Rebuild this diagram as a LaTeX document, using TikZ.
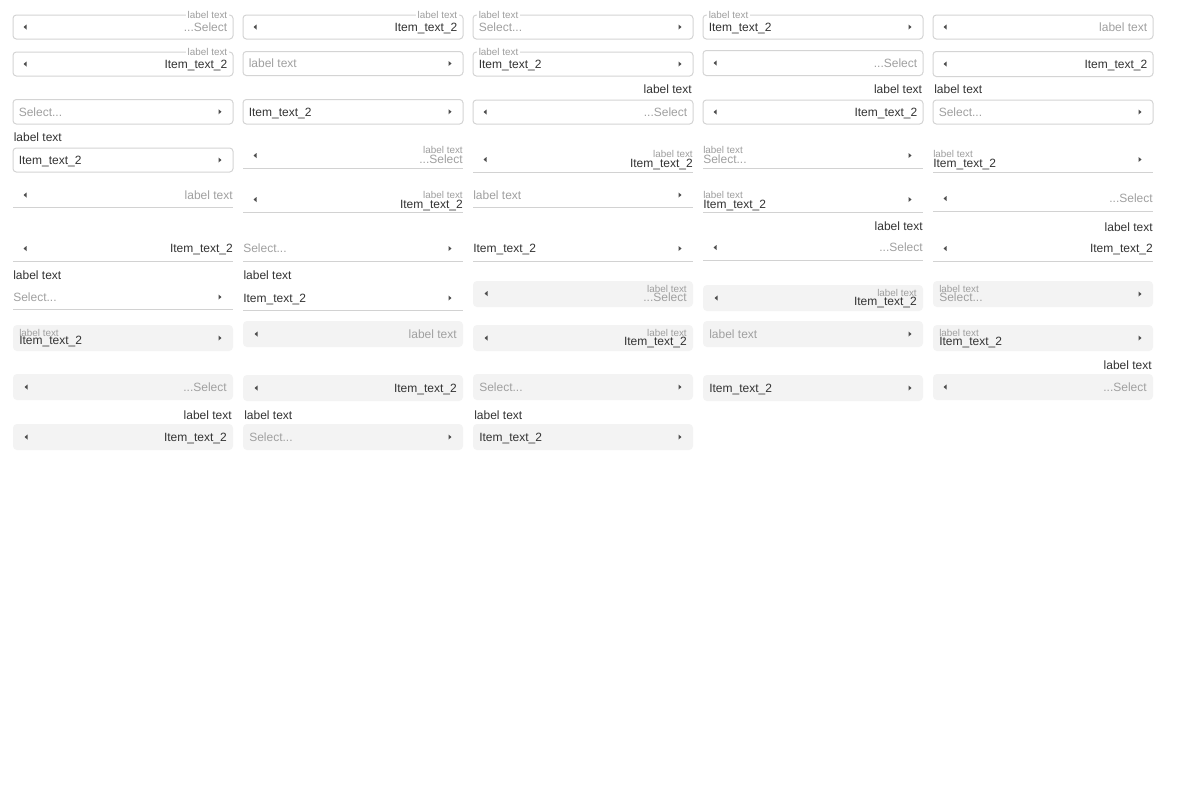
\documentclass[tikz,border=0pt]{standalone}
\usepackage{fontspec}
\setmainfont{Liberation Sans}
\definecolor{dark}{HTML}{333333}
\definecolor{phg}{HTML}{A0A0A0}
\definecolor{lblg}{HTML}{9E9E9E}
\definecolor{bord}{HTML}{D4D4D4}
\definecolor{uline}{HTML}{D2D2D2}
\definecolor{fillg}{HTML}{F3F3F3}
\definecolor{arrc}{HTML}{4D4D4D}
\begin{document}
\begin{tikzpicture}[x=0.75pt,y=-0.75pt,
  ob/.style={draw=bord,fill=white,line width=0.75pt,rounded corners=2.5pt},
  fb/.style={fill=fillg,rounded corners=3pt},
  ul/.style={draw=uline,line width=0.75pt},
  txt/.style={inner sep=0pt,font=\fontsize{9}{10}\selectfont,text height=6.4pt,text depth=0pt},
  dk/.style={txt,text=dark},
  ph/.style={txt,text=phg},
  sm/.style={inner sep=0pt,font=\fontsize{7.4}{8}\selectfont,text height=5.3pt,text depth=0pt,text=lblg},
  fl/.style={sm,fill=white,inner xsep=1.5pt,inner ysep=1pt},
  lab/.style={inner sep=0pt,font=\fontsize{9}{10}\selectfont,text=dark},
  larr/.pic={\fill[arrc] (1.5,-2.5) -- (-1.5,0) -- (1.5,2.5) -- cycle;},
  rarr/.pic={\fill[arrc] (-1.5,-2.5) -- (1.5,0) -- (-1.5,2.5) -- cycle;}]
\useasboundingbox (0,0) rectangle (1200,800);
\fill[white] (0,0) rectangle (1200,800);

% ---------------- Column 1 ----------------
\path[ob] (13,15) rectangle (233,39);
\pic at (25,27) {larr};
\node[ph,anchor=east] (c1r1v) at (227.5,27) {...Select};
\node[fl,anchor=east] (c1r1l) at (229.5,14.5) {label text};

\path[ob] (13,52) rectangle (233,76);
\pic at (25,64) {larr};
\node[dk,anchor=east] (c1r2v) at (227.5,64) {Item\_text\_2};
\node[fl,anchor=east] (c1r2l) at (229.5,51.5) {label text};

\path[ob] (13,99.5) rectangle (233,124);
\node[ph,anchor=west] (c1r3v) at (18.5,111.75) {Select...};
\pic at (220,111.75) {rarr};

\node[lab,anchor=base west] (c1r4l) at (13.5,141.7) {label text};
\path[ob] (13,148) rectangle (233,172);
\node[dk,anchor=west] (c1r4v) at (18.5,160) {Item\_text\_2};
\pic at (220,160) {rarr};

\path[ul] (13,207.5) -- (233,207.5);
\pic at (25,195) {larr};
\node[ph,anchor=east] (c1r5v) at (233,195) {label text};

\path[ul] (13,261) -- (233,261);
\pic at (25,248.5) {larr};
\node[dk,anchor=east] (c1r6v) at (233,248.5) {Item\_text\_2};

\node[lab,anchor=base west] (c1r7l) at (13,279) {label text};
\path[ul] (13,309.5) -- (233,309.5);
\node[ph,anchor=west] (c1r7v) at (13,297) {Select...};
\pic at (220,297) {rarr};

\path[fb] (13,325) rectangle (233,351);
\node[sm,anchor=west] (c1r8l) at (19,332.5) {label text};
\node[dk,anchor=west] (c1r8v) at (19,340.5) {Item\_text\_2};
\pic at (220,338) {rarr};

\path[fb] (13,374) rectangle (233,400);
\pic at (26,387) {larr};
\node[ph,anchor=east] (c1r9v) at (227,387) {...Select};

\node[lab,anchor=base east] (c1r10l) at (232,419.3) {label text};
\path[fb] (13,424) rectangle (233,450);
\pic at (26,437) {larr};
\node[dk,anchor=east] (c1r10v) at (227,437) {Item\_text\_2};

% ---------------- Column 2 ----------------
\path[ob] (243,15) rectangle (463,39);
\pic at (255,27) {larr};
\node[dk,anchor=east] (c2r1v) at (457.5,27) {Item\_text\_2};
\node[fl,anchor=east] (c2r1l) at (459.5,14.5) {label text};

\path[ob] (243,51.5) rectangle (463,75.5);
\node[ph,anchor=west] (c2r2v) at (248.5,63.5) {label text};
\pic at (450,63.5) {rarr};

\path[ob] (243,99.5) rectangle (463,124);
\node[dk,anchor=west] (c2r3v) at (248.5,111.75) {Item\_text\_2};
\pic at (450,111.75) {rarr};

\path[ul] (243,168.5) -- (463,168.5);
\pic at (255,155.5) {larr};
\node[sm,anchor=east] (c2r4l) at (463,150.3) {label text};
\node[ph,anchor=east] (c2r4v) at (463,159.5) {...Select};

\path[ul] (243,212.5) -- (463,212.5);
\pic at (255,199.5) {larr};
\node[sm,anchor=east] (c2r5l) at (463,194.5) {label text};
\node[dk,anchor=east] (c2r5v) at (463,204) {Item\_text\_2};

\path[ul] (243,261) -- (463,261);
\node[ph,anchor=west] (c2r6v) at (243,248.5) {Select...};
\pic at (450,248.5) {rarr};

\node[lab,anchor=base west] (c2r7l) at (243.3,279.7) {label text};
\path[ul] (243,310) -- (463,310);
\node[dk,anchor=west] (c2r7v) at (243,298) {Item\_text\_2};
\pic at (450,298) {rarr};

\path[fb] (243,321) rectangle (463,347);
\pic at (256,334) {larr};
\node[ph,anchor=east] (c2r8v) at (457,334) {label text};

\path[fb] (243,375) rectangle (463,401);
\pic at (256,388) {larr};
\node[dk,anchor=east] (c2r9v) at (457,388) {Item\_text\_2};

\node[lab,anchor=base west] (c2r10l) at (244,419.3) {label text};
\path[fb] (243,424) rectangle (463,450);
\node[ph,anchor=west] (c2r10v) at (249,437) {Select...};
\pic at (450,437) {rarr};

% ---------------- Column 3 ----------------
\path[ob] (473,15) rectangle (693,39);
\node[fl,anchor=west] (c3r1l) at (476.5,14.5) {label text};
\node[ph,anchor=west] (c3r1v) at (478.5,27) {Select...};
\pic at (680,27) {rarr};

\path[ob] (473,52) rectangle (693,76);
\node[fl,anchor=west] (c3r2l) at (476.5,51.5) {label text};
\node[dk,anchor=west] (c3r2v) at (478.5,64) {Item\_text\_2};
\pic at (680,64) {rarr};

\node[lab,anchor=base east] (c3r3l) at (692,93.7) {label text};
\path[ob] (473,100) rectangle (693,124);
\pic at (485,112) {larr};
\node[ph,anchor=east] (c3r3v) at (687.5,112) {...Select};

\path[ul] (473,172.5) -- (693,172.5);
\pic at (485,159.5) {larr};
\node[sm,anchor=east] (c3r4l) at (693,154.3) {label text};
\node[dk,anchor=east] (c3r4v) at (693,163.5) {Item\_text\_2};

\path[ul] (473,207.5) -- (693,207.5);
\node[ph,anchor=west] (c3r5v) at (473,195) {label text};
\pic at (680,195) {rarr};

\path[ul] (473,261) -- (693,261);
\node[dk,anchor=west] (c3r6v) at (473,248.5) {Item\_text\_2};
\pic at (680,248.5) {rarr};

\path[fb] (473,281) rectangle (693,307);
\pic at (486,293.5) {larr};
\node[sm,anchor=east] (c3r7l) at (687,288.5) {label text};
\node[ph,anchor=east] (c3r7v) at (687,297) {...Select};

\path[fb] (473,325) rectangle (693,351);
\pic at (486,338) {larr};
\node[sm,anchor=east] (c3r8l) at (687,332.5) {label text};
\node[dk,anchor=east] (c3r8v) at (687,341) {Item\_text\_2};

\path[fb] (473,374) rectangle (693,400);
\node[ph,anchor=west] (c3r9v) at (479,387) {Select...};
\pic at (680,387) {rarr};

\node[lab,anchor=base west] (c3r10l) at (474,419.3) {label text};
\path[fb] (473,424) rectangle (693,450);
\node[dk,anchor=west] (c3r10v) at (479,437) {Item\_text\_2};
\pic at (680,437) {rarr};

% ---------------- Column 4 ----------------
\path[ob] (703,15) rectangle (923,39);
\node[fl,anchor=west] (c4r1l) at (706.5,14.5) {label text};
\node[dk,anchor=west] (c4r1v) at (708.5,27) {Item\_text\_2};
\pic at (910,27) {rarr};

\path[ob] (703,50.5) rectangle (923,75.5);
\pic at (715,63) {larr};
\node[ph,anchor=east] (c4r2v) at (917.5,63) {...Select};

\node[lab,anchor=base east] (c4r3l) at (922.3,93.7) {label text};
\path[ob] (703,100) rectangle (923,124);
\pic at (715,112) {larr};
\node[dk,anchor=east] (c4r3v) at (917.5,112) {Item\_text\_2};

\path[ul] (703,168.5) -- (923,168.5);
\node[sm,anchor=west] (c4r4l) at (703,150.3) {label text};
\node[ph,anchor=west] (c4r4v) at (703,159.5) {Select...};
\pic at (910,155.5) {rarr};

\path[ul] (703,212.5) -- (923,212.5);
\node[sm,anchor=west] (c4r5l) at (703,194.5) {label text};
\node[dk,anchor=west] (c4r5v) at (703,204) {Item\_text\_2};
\pic at (910,199.5) {rarr};

\node[lab,anchor=base east] (c4r6l) at (923,230.3) {label text};
\path[ul] (703,260) -- (923,260);
\pic at (715,247.5) {larr};
\node[ph,anchor=east] (c4r6v) at (923,247.5) {...Select};

\path[fb] (703,285) rectangle (923,311);
\pic at (716,298) {larr};
\node[sm,anchor=east] (c4r7l) at (917,292.5) {label text};
\node[dk,anchor=east] (c4r7v) at (917,301) {Item\_text\_2};

\path[fb] (703,321) rectangle (923,347);
\node[ph,anchor=west] (c4r8v) at (709,334) {label text};
\pic at (910,334) {rarr};

\path[fb] (703,375) rectangle (923,401);
\node[dk,anchor=west] (c4r9v) at (709,388) {Item\_text\_2};
\pic at (910,388) {rarr};

% ---------------- Column 5 ----------------
\path[ob] (933,15) rectangle (1153,39);
\pic at (945,27) {larr};
\node[ph,anchor=east] (c5r1v) at (1147.5,27) {label text};

\path[ob] (933,51.5) rectangle (1153,76.5);
\pic at (945,64) {larr};
\node[dk,anchor=east] (c5r2v) at (1147.5,64) {Item\_text\_2};

\node[lab,anchor=base west] (c5r3l) at (934,93.7) {label text};
\path[ob] (933,100) rectangle (1153,124);
\node[ph,anchor=west] (c5r3v) at (938.5,112) {Select...};
\pic at (1140,112) {rarr};

\path[ul] (933,172.5) -- (1153,172.5);
\node[sm,anchor=west] (c5r4l) at (933,154.3) {label text};
\node[dk,anchor=west] (c5r4v) at (933,163.5) {Item\_text\_2};
\pic at (1140,159.5) {rarr};

\path[ul] (933,211) -- (1153,211);
\pic at (945,198.5) {larr};
\node[ph,anchor=east] (c5r5v) at (1153,198.5) {...Select};

\node[lab,anchor=base east] (c5r6l) at (1153,231) {label text};
\path[ul] (933,261) -- (1153,261);
\pic at (945,248.5) {larr};
\node[dk,anchor=east] (c5r6v) at (1153,248.5) {Item\_text\_2};

\path[fb] (933,281) rectangle (1153,307);
\node[sm,anchor=west] (c5r7l) at (939,288.5) {label text};
\node[ph,anchor=west] (c5r7v) at (939,297) {Select...};
\pic at (1140,294) {rarr};

\path[fb] (933,325) rectangle (1153,351);
\node[sm,anchor=west] (c5r8l) at (939,332.5) {label text};
\node[dk,anchor=west] (c5r8v) at (939,341) {Item\_text\_2};
\pic at (1140,338) {rarr};

\node[lab,anchor=base east] (c5r9l) at (1152,369) {label text};
\path[fb] (933,374) rectangle (1153,400);
\pic at (945,387) {larr};
\node[ph,anchor=east] (c5r9v) at (1147,387) {...Select};
\end{tikzpicture}
\end{document}
